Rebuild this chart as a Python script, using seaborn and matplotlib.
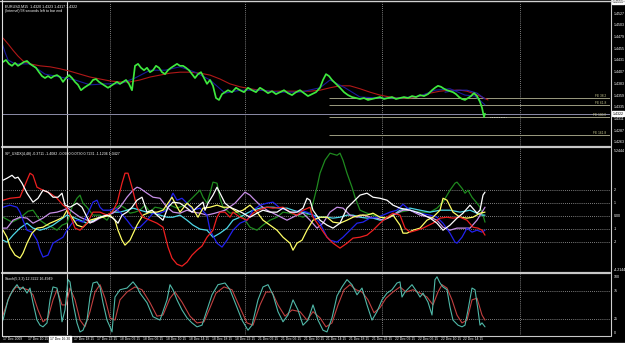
import matplotlib
matplotlib.use("Agg")
import matplotlib.pyplot as plt
from matplotlib.lines import Line2D
import seaborn as sns

sns.set_theme(style="dark", rc={"axes.facecolor": "black", "figure.facecolor": "black"})
plt.rcParams["font.family"] = ["Liberation Sans", "DejaVu Sans"]

# ---------------- data (x = horizontal chart position, bars) ----------------
price_x = [3, 6, 9, 12, 15, 18, 21, 24, 27, 30, 33, 36, 39, 42, 45, 48, 51, 54, 57, 60,
           63, 66, 69, 72, 75, 78, 81, 84, 87, 90, 93, 96, 99, 102, 105, 108, 111, 114, 117, 120,
           123, 126, 129, 132, 135, 138, 141, 144, 147, 150, 153, 156, 159, 162, 165, 168, 171, 174, 177, 180,
           183, 186, 189, 192, 195, 198, 201, 204, 207, 210, 213, 216, 219, 222, 225, 228, 232, 236, 240, 244,
           248, 252, 256, 260, 264, 268, 272, 276, 280, 284, 288, 292, 296, 300, 304, 308, 312, 316, 320, 323,
           326, 329, 332, 336, 340, 344, 348, 352, 356, 360, 364, 368, 372, 376, 380, 384, 388, 392, 396, 400,
           404, 408, 412, 416, 420, 424, 428, 432, 435, 438, 441, 444, 447, 450, 453, 456, 459, 462, 465, 468,
           471, 474, 477, 480, 482, 484, 485]
price = [1.4428, 1.4432, 1.4424, 1.4420, 1.4426, 1.4420, 1.4424, 1.4428, 1.4430, 1.4424, 1.4420, 1.4416, 1.4407, 1.4399, 1.4395, 1.4399, 1.4395, 1.4399, 1.4401, 1.4397,
         1.4387, 1.4395, 1.4401, 1.4395, 1.4387, 1.4381, 1.4370, 1.4375, 1.4379, 1.4383, 1.4391, 1.4393, 1.4387, 1.4383, 1.4379, 1.4375, 1.4379, 1.4383, 1.4387, 1.4383,
         1.4387, 1.4391, 1.4383, 1.4370, 1.4420, 1.4424, 1.4416, 1.4411, 1.4416, 1.4407, 1.4411, 1.4420, 1.4416, 1.4407, 1.4403, 1.4411, 1.4416, 1.4420, 1.4424, 1.4420,
         1.4420, 1.4416, 1.4411, 1.4403, 1.4395, 1.4403, 1.4407, 1.4395, 1.4383, 1.4391, 1.4379, 1.4354, 1.4350, 1.4362, 1.4366, 1.4370, 1.4366, 1.4375, 1.4370, 1.4366,
         1.4375, 1.4370, 1.4366, 1.4375, 1.4370, 1.4364, 1.4368, 1.4362, 1.4366, 1.4370, 1.4364, 1.4360, 1.4366, 1.4370, 1.4364, 1.4358, 1.4362, 1.4366, 1.4375, 1.4391,
         1.4403, 1.4399, 1.4391, 1.4383, 1.4375, 1.4366, 1.4360, 1.4356, 1.4354, 1.4352, 1.4354, 1.4350, 1.4352, 1.4354, 1.4356, 1.4352, 1.4354, 1.4356, 1.4352, 1.4354,
         1.4356, 1.4354, 1.4358, 1.4356, 1.4360, 1.4358, 1.4362, 1.4370, 1.4375, 1.4379, 1.4377, 1.4373, 1.4370, 1.4368, 1.4366, 1.4362, 1.4356, 1.4352, 1.4350, 1.4354,
         1.4358, 1.4364, 1.4358, 1.4346, 1.4334, 1.4315, 1.4322]

slow_ma_x = [3, 8, 13, 18, 23, 30, 40, 50, 60, 70, 80, 90, 100, 110, 120, 130, 140, 150, 160, 170,
             180, 190, 200, 210, 220, 230, 240, 250, 260, 270, 280, 290, 300, 310, 320, 330, 340, 350, 360, 370,
             380, 390, 400, 410, 420, 430, 440, 450, 460, 467, 475, 482, 488]
slow_ma = [1.4477, 1.4465, 1.4452, 1.4440, 1.4430, 1.4424, 1.4420, 1.4418, 1.4414, 1.4409, 1.4403, 1.4397, 1.4393, 1.4389, 1.4387, 1.4387, 1.4391, 1.4397, 1.4401, 1.4405,
           1.4407, 1.4407, 1.4405, 1.4401, 1.4393, 1.4383, 1.4377, 1.4373, 1.4370, 1.4368, 1.4368, 1.4368, 1.4368, 1.4368, 1.4370, 1.4375, 1.4379, 1.4379, 1.4373, 1.4366,
           1.4360, 1.4356, 1.4354, 1.4354, 1.4358, 1.4364, 1.4368, 1.4370, 1.4370, 1.4368, 1.4362, 1.4356, 1.4350]

fast_ma_x = [2, 5, 8, 15, 30, 45, 60, 75, 90, 105, 120, 135, 150, 165, 180, 195, 210, 225, 240, 260,
             280, 300, 320, 330, 345, 360, 380, 400, 420, 435, 450, 465, 475, 485]
fast_ma = [1.4467, 1.4448, 1.4432, 1.4424, 1.4424, 1.4403, 1.4397, 1.4391, 1.4381, 1.4383, 1.4383, 1.4395, 1.4411, 1.4411, 1.4418, 1.4407, 1.4391, 1.4364, 1.4370, 1.4370,
           1.4366, 1.4366, 1.4375, 1.4391, 1.4375, 1.4356, 1.4354, 1.4354, 1.4358, 1.4370, 1.4373, 1.4360, 1.4358, 1.4340]

arc_ma_x = [445, 457, 467, 477, 485]
arc_ma = [1.4366, 1.4370, 1.4370, 1.4364, 1.4352]

price_ticks = [1.4263, 1.4287, 1.4311, 1.4335, 1.4359, 1.4383, 1.4407, 1.4431, 1.4455, 1.4479, 1.4503, 1.4527]
last_price = 1.4322
top_price = 1.4551
fibo_levels = [1.4354, 1.4340, 1.4315, 1.4278]
fibo_names = ["FE 38.2", "FE 61.8", "FE 100.0", "FE 161.8"]

# strength indicator panel
red_x = [3, 10, 20, 27, 30, 33, 37, 43, 50, 57, 63, 67, 72, 75, 80, 87, 93, 100, 107, 112,
         117, 122, 125, 128, 132, 137, 143, 150, 157, 163, 168, 172, 177, 182, 187, 192, 197, 202, 207, 213,
         217, 220, 225, 230, 233, 240, 247, 253, 258, 267, 273, 283, 290, 297, 303, 310, 313, 320, 327, 333,
         340, 347, 353, 360, 367, 373, 380, 387, 393, 400, 405, 410, 417, 423, 433, 440, 447, 453, 460, 467,
         473, 478, 482, 485]
red_v = [1.23, 1.38, 1.46, 2.77, 3.31, 3.15, 2.23, 2.0, 1.77, 1.38, 0.85, 0.62, -0.31, -0.92, -1.08, -0.54, 0.31, 0.31, 0.08, 0.31,
         1.0, 2.54, 3.31, 3.31, 2.23, 0.69, -0.08, -0.31, -0.54, -0.85, -2.38, -3.23, -3.7, -3.85, -3.54, -3.0, -2.62, -2.3, -1.62, -1.08,
         -0.08, 0.31, 0.31, -0.08, 0.31, -0.08, -0.31, 0.23, 0.46, 0.69, 0.62, 0.69, 0.31, 0.08, 0.46, 0.69, -0.08, -0.85, -1.62, -2.08,
         -2.46, -2.08, -1.69, -1.62, -1.46, -1.08, -0.54, -0.08, 0.23, 0.08, -0.92, -1.23, -1.08, -0.92, -0.54, -0.15, -0.08, -0.15, -0.08, -0.31,
         -0.85, -0.92, -1.08, -1.46]

white_x = [3, 7, 12, 15, 18, 22, 27, 33, 38, 43, 48, 53, 58, 62, 65, 70, 77, 82, 87, 90,
           95, 100, 107, 113, 118, 122, 127, 132, 137, 142, 147, 152, 157, 163, 168, 173, 180, 187, 192, 197,
           203, 205, 208, 213, 217, 220, 225, 230, 237, 243, 250, 257, 263, 270, 277, 283, 290, 297, 303, 307,
           310, 313, 320, 327, 333, 340, 347, 353, 360, 367, 373, 380, 387, 393, 400, 410, 420, 430, 437, 443,
           450, 457, 463, 470, 477, 480, 483, 485]
white_v = [2.77, 2.92, 3.15, 2.92, 3.0, 2.54, 1.77, 1.08, 1.38, 2.0, 1.85, 1.46, 1.46, 1.77, 0.85, 0.69, 1.0, 0.69, -0.08, -0.54,
           -0.31, -0.08, 0.08, -0.15, -0.54, 0.08, 0.31, 0.69, 1.23, 1.46, 0.31, 0.46, 0.08, -0.31, 0.69, 1.08, 1.0, 0.62, 0.31, 0.69,
           1.08, 0.46, 1.0, 1.62, 2.23, 1.77, 1.0, 0.69, 0.46, 0.23, -0.08, 0.23, 0.46, 0.31, 0.31, 0.62, 0.31, 0.31, 0.62, 1.38,
           1.23, 0.46, -0.31, -0.69, -0.92, -0.54, 0.62, 1.08, 1.62, 1.77, 1.46, 1.38, 1.23, 0.85, 0.62, 0.46, 0.23, -0.15, -0.54, -1.08,
           -0.69, -0.15, 0.23, 0.85, 0.23, 0.46, 1.62, 1.85]

green_x = [3, 12, 20, 28, 33, 40, 47, 52, 57, 62, 67, 72, 77, 80, 83, 87, 93, 100, 107, 113,
           120, 125, 130, 135, 140, 145, 150, 155, 160, 165, 170, 177, 185, 193, 200, 203, 207, 210, 213, 217,
           220, 223, 230, 237, 243, 250, 257, 263, 270, 277, 283, 290, 297, 303, 310, 313, 317, 320, 325, 330,
           337, 340, 343, 347, 352, 355, 360, 367, 373, 380, 387, 393, 400, 410, 420, 430, 437, 443, 450, 455,
           457, 462, 465, 468, 472, 477, 480, 483, 485]
green_v = [-0.08, -0.46, -0.15, 0.38, 0.46, -0.31, -0.69, -0.85, -1.08, -0.69, -0.54, 0.69, 1.38, 1.62, 1.0, 0.69, 0.08, 0.08, -0.31, 0.46,
           0.85, 0.62, 0.23, 0.31, 0.46, 0.85, 0.31, 0.69, 0.62, 0.46, 0.85, 0.62, 0.85, 1.46, 2.0, 1.46, 1.0, 1.77, 2.62, 2.54,
           1.38, 0.69, 0.23, 0.31, -0.08, -0.85, -1.08, -0.69, -0.31, -0.08, 0.31, 0.23, 0.08, -0.08, 0.23, 1.0, 2.23, 3.31, 4.31, 4.85,
           4.69, 4.85, 4.31, 3.31, 2.23, 1.46, 0.46, 0.23, 0.08, -0.08, -0.15, 0.08, 0.31, 0.46, 0.31, 0.31, 0.62, 1.08, 2.0, 2.54,
           2.62, 2.15, 1.77, 2.0, 1.46, 1.0, 0.69, 0.08, -0.46]

blue_x = [3, 10, 17, 20, 23, 27, 32, 37, 40, 43, 48, 53, 58, 63, 67, 72, 77, 83, 88, 93,
          97, 100, 103, 110, 115, 120, 127, 133, 140, 147, 153, 160, 167, 172, 173, 177, 182, 187, 193, 200,
          207, 210, 217, 222, 227, 233, 240, 247, 253, 260, 267, 273, 280, 287, 293, 300, 307, 313, 320, 327,
          330, 337, 343, 350, 357, 363, 370, 377, 383, 390, 397, 403, 410, 420, 430, 437, 443, 450, 455, 457,
          462, 467, 472, 477, 482, 485]
blue_v = [0.69, 0.85, 0.69, 0.31, -0.31, -1.08, -1.23, -1.85, -2.62, -3.15, -3.0, -2.08, -1.85, -1.62, -1.08, -0.54, -0.31, -0.46, 0.23, 1.08,
          1.23, 0.69, 0.46, 0.46, 0.62, 0.31, -0.31, -0.92, -0.85, -0.31, 0.23, 0.23, 0.46, 1.62, 1.77, 1.23, 1.38, 1.0, 0.46, 0.62,
          0.08, -1.08, -2.08, -2.38, -1.85, -1.08, -0.54, -0.31, 0.46, 0.85, 1.0, 1.08, 0.62, 0.46, 0.23, 0.46, 0.31, 0.08, -0.54, -1.62,
          -1.85, -2.0, -1.62, -1.08, -0.54, -0.46, -0.15, -0.08, 0.08, 0.31, 0.46, 0.92, 0.46, 0.23, 0.08, -0.08, -0.54, -1.31, -2.0, -2.08,
          -1.62, -0.92, -1.23, -1.08, -1.23, -1.08]

violet_x = [3, 7, 13, 20, 27, 33, 43, 50, 57, 63, 68, 73, 80, 87, 93, 100, 107, 113, 120, 127,
            133, 137, 140, 147, 153, 160, 167, 173, 180, 187, 193, 200, 207, 215, 225, 235, 245, 250, 253, 260,
            267, 277, 287, 297, 303, 310, 317, 323, 330, 337, 343, 350, 357, 363, 370, 377, 383, 390, 397, 403,
            410, 420, 430, 437, 443, 450, 457, 463, 470, 477, 482, 485]
violet_v = [-0.92, -0.92, -0.31, -0.08, -0.15, -0.54, -0.15, 0.23, 0.31, 0.46, 0.62, 0.31, -0.08, -0.31, -0.46, -0.15, 0.08, 0.23, 0.69, 1.46,
            2.0, 2.23, 2.15, 1.77, 1.46, 1.38, 0.69, 0.31, 0.23, 0.46, 0.31, 0.23, 0.08, 0.23, 0.46, 1.0, 1.85, 1.62, 1.38, 0.85,
            0.46, 0.08, -0.31, 0.08, 0.23, -0.31, -0.92, -0.54, 0.31, 0.69, 0.62, 0.08, -0.08, 0.08, -0.08, -0.15, -0.31, -0.08, 0.23, 0.46,
            0.46, 0.08, -0.08, -0.31, -0.85, -1.08, -0.92, -0.92, -0.92, -0.31, 0.31, 0.69]

yellow_x = [3, 7, 10, 15, 20, 23, 27, 32, 37, 43, 50, 57, 63, 67, 72, 77, 83, 90, 97, 103,
            110, 115, 118, 122, 125, 130, 137, 143, 150, 157, 163, 168, 172, 175, 180, 187, 192, 198, 203, 210,
            217, 223, 230, 237, 243, 250, 257, 263, 270, 277, 283, 290, 293, 297, 302, 307, 313, 320, 327, 333,
            340, 347, 353, 360, 367, 373, 380, 387, 393, 400, 403, 407, 413, 420, 427, 433, 440, 443, 447, 453,
            460, 467, 473, 480, 485]
yellow_v = [-1.08, -1.62, -2.38, -3.0, -3.23, -2.85, -2.08, -1.31, -0.92, -0.85, -0.54, -0.31, -0.08, 0.46, -0.08, -0.69, -0.85, -0.31, -0.15, -0.08,
            0.08, -0.31, -1.08, -1.85, -2.23, -1.85, -0.69, 0.08, 0.31, 0.31, 0.46, 1.0, 1.46, 1.0, 0.31, 1.0, 0.69, -0.08, 0.62, 0.69,
            0.85, 0.69, 0.69, 0.31, 0.46, 0.85, 0.31, -0.31, -0.69, -1.08, -1.62, -2.08, -2.62, -2.08, -1.85, -1.08, -0.31, -0.08, -0.08, -0.46,
            -0.54, -0.31, -0.08, 0.08, 0.08, 0.23, -0.08, -0.15, 0.08, -0.69, -1.31, -1.31, -1.08, -0.92, -0.31, -0.08, 0.46, 1.38, 1.23, 0.31,
            -0.08, -0.15, -0.08, 0.23, 0.31]

cyan_x = [3, 7, 13, 20, 27, 33, 40, 47, 53, 60, 67, 73, 80, 87, 93, 100, 107, 113, 120, 127,
          133, 140, 147, 153, 160, 167, 173, 180, 187, 193, 200, 207, 213, 220, 227, 233, 240, 247, 253, 260,
          267, 273, 280, 287, 293, 300, 307, 313, 320, 327, 333, 340, 347, 353, 360, 367, 373, 380, 387, 393,
          400, 410, 420, 430, 440, 450, 460, 470, 477, 482, 485]
cyan_v = [-1.85, -2.0, -1.46, -0.92, -0.54, -0.92, -1.08, -0.92, -0.69, -0.31, 0.08, -0.08, -0.31, -0.54, -0.31, -0.08, 0.08, 0.31, 0.31, 0.46,
          0.62, 0.46, 0.31, 0.23, 0.08, -0.08, -0.08, 0.08, -0.31, -0.69, -1.0, -1.08, -1.62, -1.31, -0.92, -0.31, -0.08, 0.23, 0.46, 0.62,
          0.69, 0.69, 0.62, 0.62, 0.46, 0.31, 0.23, 0.08, -0.08, -0.08, -0.15, -0.08, 0.08, 0.08, -0.08, -0.15, -0.15, -0.31, -0.15, 0.08,
          0.46, 0.62, 0.46, 0.31, 0.46, 0.46, 0.31, 0.46, 0.23, 0.08, 0.08]

strength_levels = [-2, -1, 0, 1, 2]
strength_labels = ["-2", "-1", "0.00", "1", "2"]

# stochastic panel
stoch_x = [3, 8, 13, 17, 20, 23, 27, 30, 33, 37, 40, 43, 47, 50, 53, 57, 60, 62, 65, 68,
           70, 73, 77, 80, 83, 87, 90, 93, 97, 100, 103, 107, 110, 112, 115, 120, 127, 133, 137, 140,
           147, 153, 160, 167, 170, 173, 177, 182, 187, 192, 197, 202, 207, 212, 218, 225, 230, 236, 242, 248,
           252, 258, 263, 268, 273, 278, 283, 288, 293, 298, 303, 308, 313, 318, 323, 327, 332, 337, 342, 347,
           352, 357, 362, 367, 372, 377, 382, 387, 392, 397, 400, 402, 405, 412, 417, 420, 423, 428, 432, 435,
           437, 440, 443, 447, 450, 453, 458, 462, 465, 468, 472, 475, 478, 480, 482, 485]
stoch_k = [23, 59, 77, 86, 77, 82, 71, 80, 54, 23, 14, 11, 18, 59, 82, 80, 54, 20, 41, 95,
           91, 54, 18, 2, 5, 23, 64, 89, 91, 82, 54, 23, 11, 2, 64, 77, 80, 91, 82, 71,
           54, 29, 23, 59, 86, 77, 59, 41, 27, 18, 11, 14, 41, 68, 86, 89, 77, 50, 23, 5,
           14, 59, 82, 86, 68, 38, 20, 32, 59, 41, 14, 23, 50, 23, 5, 2, 27, 66, 82, 95,
           86, 68, 80, 50, 23, 38, 59, 71, 77, 89, 91, 64, 73, 86, 73, 64, 71, 55, 32, 95,
           100, 89, 82, 77, 46, 23, 14, 11, 14, 41, 80, 77, 41, 14, 18, 11]
signal_x = [3, 10, 16, 22, 28, 33, 38, 43, 48, 53, 57, 62, 66, 70, 75, 80, 85, 90, 95, 100,
            105, 110, 115, 120, 127, 135, 142, 150, 157, 163, 170, 175, 182, 190, 197, 204, 210, 216, 224, 232,
            240, 247, 253, 260, 266, 272, 278, 285, 292, 300, 307, 313, 320, 326, 332, 338, 344, 350, 356, 362,
            368, 374, 380, 386, 393, 400, 406, 413, 420, 427, 433, 438, 442, 447, 452, 457, 462, 467, 472, 477,
            482, 485]
stoch_d = [32, 68, 82, 80, 77, 68, 41, 20, 27, 59, 77, 50, 50, 80, 59, 23, 11, 38, 73, 86,
           62, 27, 23, 59, 73, 82, 77, 54, 30, 32, 62, 73, 55, 30, 18, 20, 45, 71, 82, 77,
           45, 18, 14, 50, 73, 73, 50, 30, 41, 38, 23, 38, 27, 11, 18, 50, 77, 86, 77, 73,
           59, 36, 45, 62, 73, 82, 73, 77, 71, 64, 50, 73, 86, 80, 59, 32, 18, 23, 59, 62,
           32, 23]
stoch_levels = [25, 75]
stoch_labels = ["0", "25", "75", "100"]
stoch_label_values = [0, 25, 75, 100]

# time axis
day_separators = [110, 245, 382, 520]
crosshair_x = 67
time_label_x = [3, 28, 74, 97, 120, 143, 166, 189, 212, 235, 258, 281, 304, 326, 349, 372, 395, 418, 441, 463]
time_labels = ["17 Dec 2009", "17 Dec 10:15", "17 Dec 18:15", "17 Dec 22:15", "18 Dec 02:15", "18 Dec 06:15",
               "18 Dec 10:15", "18 Dec 14:15", "18 Dec 18:15", "18 Dec 22:15", "21 Dec 02:15", "21 Dec 06:15",
               "21 Dec 10:15", "21 Dec 14:15", "21 Dec 18:15", "21 Dec 22:15", "22 Dec 02:15", "22 Dec 06:15",
               "22 Dec 10:15", "22 Dec 14:15"]
crosshair_time = "17 Dec 16:30"

# ---------------- figure ----------------
W, H = 625, 343
fig = plt.figure(figsize=(W / 100, H / 100), dpi=100, facecolor="black")


def box(x0, y0, x1, y1):
    return [x0 / W, 1 - y1 / H, (x1 - x0) / W, (y1 - y0) / H]


ax1 = fig.add_axes(box(2, 2, 610, 146))
ax2 = fig.add_axes(box(2, 148, 610, 272))
ax3 = fig.add_axes(box(2, 274, 610, 335))

FS = 2.6
GRID = "#a8a8a8"
for ax in (ax1, ax2, ax3):
    ax.set_facecolor("black")
    ax.set_xlim(2, 610)
    ax.set_xticks([])
    ax.set_yticks([])
    ax.grid(False)
    for s in ax.spines.values():
        s.set_visible(False)
    for d in day_separators:
        ax.axvline(d, color=GRID, lw=0.6, ls=(0, (1, 1.5)))
    ax.axvline(crosshair_x, color="#d8d8d8", lw=0.8)

# ---- price panel ----
ax1.set_ylim(1.42556, 1.45509)
ax1.axhline(last_price, color="#8c8ca8", lw=0.7)
for lvl, name in zip(fibo_levels, fibo_names):
    ax1.hlines(lvl, 329, 610, color="#9c9c80", lw=0.7)
    ax1.text(606, lvl, name, color="#c8c890", fontsize=FS * 0.9, ha="right", va="bottom")
sns.lineplot(x=slow_ma_x, y=slow_ma, ax=ax1, color="#b01818", lw=0.8, estimator=None)
sns.lineplot(x=fast_ma_x, y=fast_ma, ax=ax1, color="#1a1a9a", lw=0.8, estimator=None)
sns.lineplot(x=arc_ma_x, y=arc_ma, ax=ax1, color="#2424b0", lw=0.8, estimator=None)
sns.lineplot(x=price_x, y=price, ax=ax1, color="#3ee83e", lw=1.25, estimator=None)
ax1.hlines(last_price - 0.0007, 490, 506, color="white", lw=0.5, ls=(0, (1, 1.5)))
for t in price_ticks:
    ax1.text(1.006, t, f"{t:.4f}", transform=ax1.get_yaxis_transform(), color="white",
             fontsize=FS, va="center", ha="left", clip_on=False)
for v in (last_price, top_price):
    ax1.text(1.004, v, f"{v:.4f}", transform=ax1.get_yaxis_transform(), color="black",
             fontsize=FS, va="center", ha="left", clip_on=False,
             bbox=dict(boxstyle="square,pad=0.15", fc="white", ec="white"))
ax1.text(0.005, 0.985, "EURUSD,M15  1.4320 1.4323 1.4317 1.4322", transform=ax1.transAxes,
         color="white", fontsize=FS, va="top", ha="left")
ax1.text(0.005, 0.95, "(Internal) 58 seconds left to bar end", transform=ax1.transAxes,
         color="white", fontsize=FS, va="top", ha="left")

# ---- strength panel ----
ax2.set_ylim(-4.3, 5.25)
for lvl in strength_levels:
    ax2.axhline(lvl, color=GRID, lw=0.6, ls=(0, (1, 1.5)))
series = [(green_x, green_v, "#1f8a1f"), (cyan_x, cyan_v, "#4fd8e8"), (violet_x, violet_v, "#c890e8"),
          (blue_x, blue_v, "#2222ee"), (yellow_x, yellow_v, "#ffff66"), (red_x, red_v, "#ee2020"),
          (white_x, white_v, "#ffffff")]
for xs, vs, c in series:
    sns.lineplot(x=xs, y=vs, ax=ax2, color=c, lw=0.9, estimator=None)
for lvl, lab in zip(strength_levels, strength_labels):
    ax2.text(1.006, lvl, lab, transform=ax2.get_yaxis_transform(), color="white",
             fontsize=FS, va="center", ha="left", clip_on=False)
ax2.text(1.006, 5.05, "5.2444", transform=ax2.get_yaxis_transform(), color="white",
         fontsize=FS, va="center", ha="left", clip_on=False)
ax2.text(1.006, -4.15, "-4.2144", transform=ax2.get_yaxis_transform(), color="white",
         fontsize=FS, va="center", ha="left", clip_on=False)
ax2.text(0.005, 0.97, "SP_USDX(4,48) -0.3711 -1.4082 -0.0930 0.0730 0.7231 -1.1236 1.0427",
         transform=ax2.transAxes, color="white", fontsize=FS, va="top", ha="left")

# ---- stochastic panel ----
ax3.set_ylim(-3.5, 105)
for lvl in stoch_levels:
    ax3.axhline(lvl, color=GRID, lw=0.6, ls=(0, (1, 1.5)))
sns.lineplot(x=signal_x, y=stoch_d, ax=ax3, color="#c04040", lw=0.8, estimator=None)
sns.lineplot(x=stoch_x, y=stoch_k, ax=ax3, color="#50b8a8", lw=0.8, estimator=None)
for v, lab in zip(stoch_label_values, stoch_labels):
    ax3.text(1.006, v, lab, transform=ax3.get_yaxis_transform(), color="white",
             fontsize=FS, va="center", ha="left", clip_on=False)
ax3.text(0.005, 0.95, "Stoch(5,3,3) 12.3222 16.4949", transform=ax3.transAxes,
         color="white", fontsize=FS, va="top", ha="left")

# ---- frame lines ----
def hline(y, x0, x1, c, lw):
    fig.add_artist(Line2D([x0 / W, x1 / W], [1 - y / H, 1 - y / H], transform=fig.transFigure, color=c, lw=lw))


def vline(x, y0, y1, c, lw):
    fig.add_artist(Line2D([x / W, x / W], [1 - y0 / H, 1 - y1 / H], transform=fig.transFigure, color=c, lw=lw))


hline(0.5, 0, W, "#d0d0d0", 1.0)
hline(147, 2, 610, "#c8c8c8", 1.6)
hline(273, 2, 610, "#c8c8c8", 1.6)
hline(335.5, 2, 610, "#c8c8c8", 0.8)
hline(342.5, 0, W, "#c8c8c8", 1.0)
vline(2, 0, 336, "#e0e0e0", 0.8)
vline(610.5, 0, 336, "#d0d0d0", 0.8)

for x, lab in zip(time_label_x, time_labels):
    fig.text(x / W, 1 - 339 / H, lab, color="white", fontsize=FS * 0.95, va="center", ha="left")
fig.text(50 / W, 1 - 339 / H, crosshair_time, color="black", fontsize=FS * 0.95, va="center", ha="left",
         bbox=dict(boxstyle="square,pad=0.15", fc="white", ec="white"))

fig.savefig("out.png", dpi=100, facecolor="black")
